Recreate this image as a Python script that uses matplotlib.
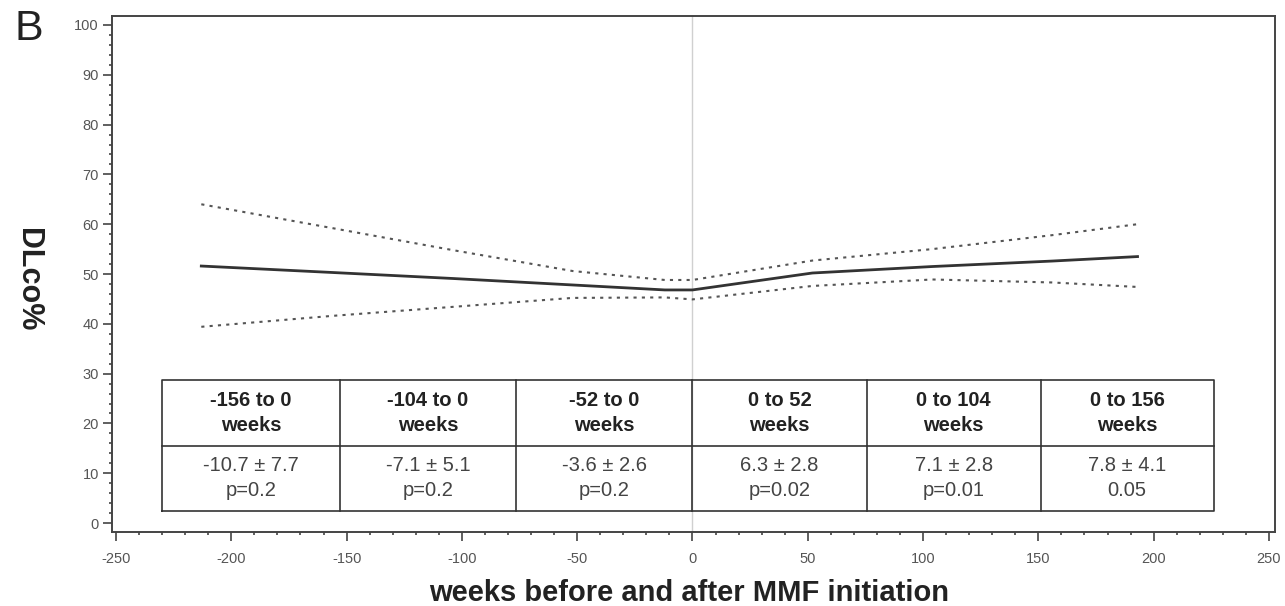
import numpy as np
import matplotlib
matplotlib.use('Agg')
import matplotlib.pyplot as plt
from matplotlib.ticker import MultipleLocator

plt.rcParams['font.family'] = ['Liberation Sans', 'DejaVu Sans']
plt.rcParams['axes.unicode_minus'] = False

# fitted DLco% curve and its confidence band
weeks = [-213, -156, -104, -52, -12, 0, 52, 104, 156, 193]
dlco_mean = [51.6, 50.3, 49.1, 47.8, 46.8, 46.8, 50.2, 51.5, 52.6, 53.5]
dlco_upper = [64.0, 59.2, 54.8, 50.6, 48.8, 48.8, 52.7, 55.0, 57.8, 60.0]
dlco_lower = [39.4, 41.6, 43.4, 45.2, 45.3, 44.9, 47.6, 48.9, 48.3, 47.4]

# summary table
interval_labels = ['-156 to 0\nweeks', '-104 to 0\nweeks', '-52 to 0\nweeks',
                   '0 to 52\nweeks', '0 to 104\nweeks', '0 to 156\nweeks']
change_labels = ['-10.7 \u00b1 7.7', '-7.1 \u00b1 5.1', '-3.6 \u00b1 2.6',
                 '6.3 \u00b1 2.8', '7.1 \u00b1 2.8', '7.8 \u00b1 4.1']
p_labels = ['p=0.2', 'p=0.2', 'p=0.2', 'p=0.02', 'p=0.01', '0.05']

col_edges = [-230, -153, -76.5, 0, 75.5, 151, 226]
tab_bottom, tab_mid, tab_top = 2.4, 15.5, 28.7

fig = plt.figure(figsize=(12.85, 6.06), dpi=100)
ax = fig.add_axes([0.0872, 0.1221, 0.905, 0.8515])

ax.axvline(0, color='#d0d0d0', lw=1.0, zorder=1)

ax.plot(weeks, dlco_mean, color='#333333', lw=2.0, zorder=3)
ax.plot(weeks, dlco_upper, color='#555555', lw=1.5, ls=(0, (1.5, 2.5)), zorder=3)
ax.plot(weeks, dlco_lower, color='#555555', lw=1.5, ls=(0, (1.5, 2.5)), zorder=3)

# table box
tc = '#333333'
ax.plot([col_edges[0], col_edges[-1], col_edges[-1], col_edges[0], col_edges[0]],
        [tab_bottom, tab_bottom, tab_top, tab_top, tab_bottom], color=tc, lw=1.2, zorder=4)
ax.plot([col_edges[0], col_edges[-1]], [tab_mid, tab_mid], color=tc, lw=1.2, zorder=4)
for e in col_edges[1:-1]:
    ax.plot([e, e], [tab_bottom, tab_top], color=tc, lw=1.2, zorder=4)
for i in range(len(interval_labels)):
    xc = (col_edges[i] + col_edges[i + 1]) / 2.0
    ax.text(xc, (tab_mid + tab_top) / 2.0, interval_labels[i], ha='center', va='center',
            fontsize=14.5, fontweight='bold', color='#222222', linespacing=1.4, zorder=5)
    ax.text(xc, (tab_bottom + tab_mid) / 2.0, change_labels[i] + '\n' + p_labels[i],
            ha='center', va='center', fontsize=14.5, color='#444444', linespacing=1.4, zorder=5)

ax.set_xlim(-251.7, 252.6)
ax.set_ylim(-1.8, 101.8)
ax.xaxis.set_major_locator(MultipleLocator(50))
ax.xaxis.set_minor_locator(MultipleLocator(10))
ax.yaxis.set_major_locator(MultipleLocator(10))
ax.yaxis.set_minor_locator(MultipleLocator(2))
ax.tick_params(which='major', length=6.5, width=1.2, color='#444444',
               labelsize=10.5, labelcolor='#555555')
ax.tick_params(which='minor', length=2.5, width=1.2, color='#444444')
ax.tick_params(axis='x', pad=8)
ax.tick_params(axis='y', pad=3)
for s in ax.spines.values():
    s.set_color('#444444')
    s.set_linewidth(1.4)

fig.text(0.0218, 0.538, 'DLco%', rotation=-90, ha='center', va='center',
         fontsize=22, fontweight='bold', color='#222222')
fig.text(0.536, 0.021, 'weeks before and after MMF initiation', ha='center', va='center',
         fontsize=21, fontweight='bold', color='#222222')
fig.text(0.0225, 0.952, 'B', ha='center', va='center', fontsize=31, color='#222222')

fig.savefig('out.png', dpi=100)
